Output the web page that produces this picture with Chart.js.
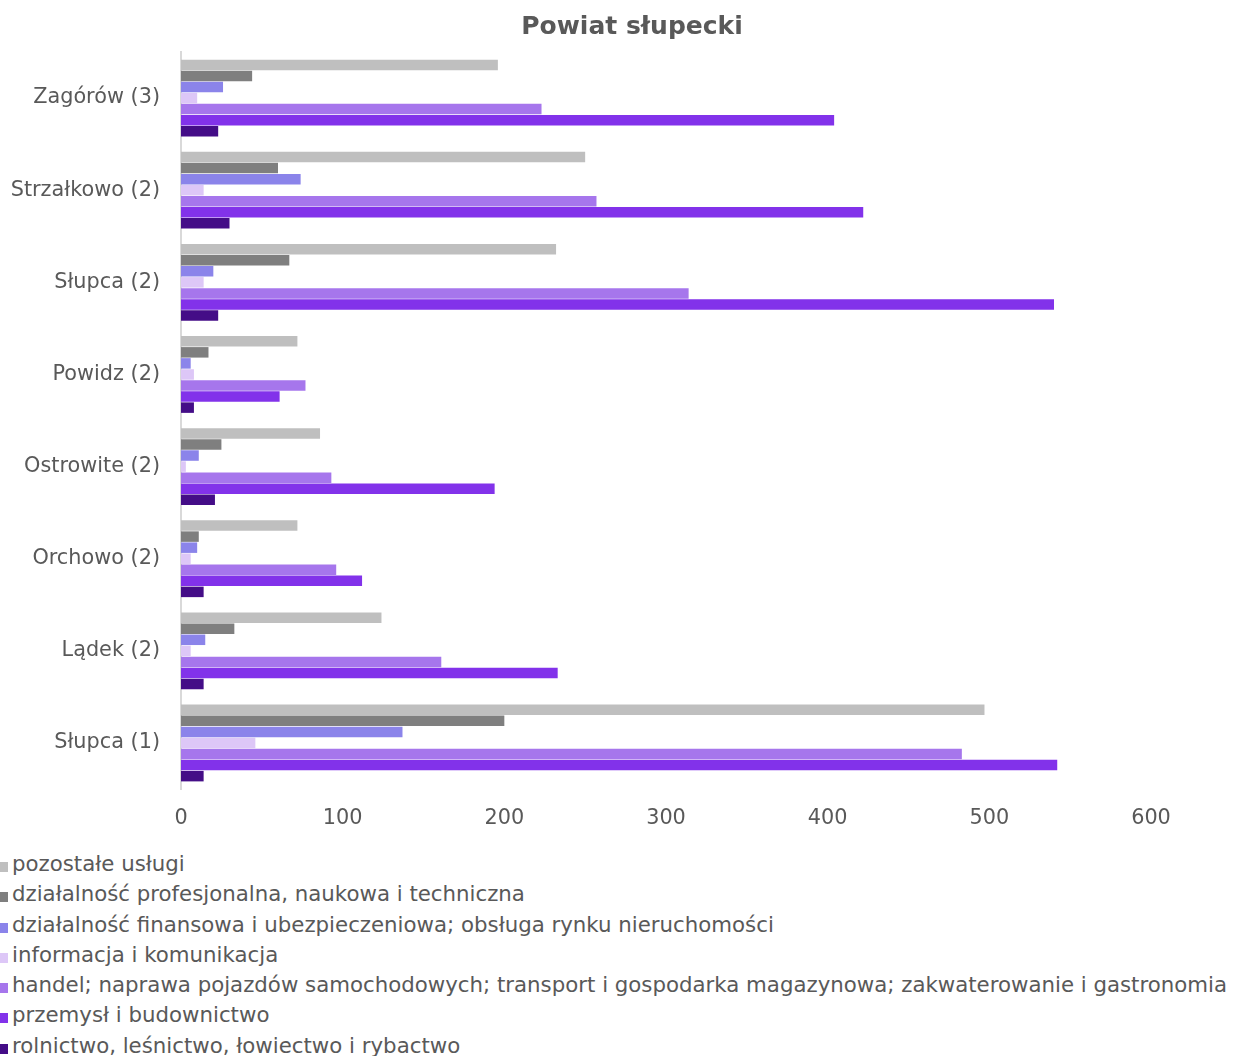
<!DOCTYPE html>
<html lang="pl">
<head>
<meta charset="utf-8">
<title>Powiat słupecki</title>
<script src="https://cdn.jsdelivr.net/npm/chart.js@4.4.1/dist/chart.umd.min.js"></script>
<style>
  body { margin: 0; background: #fff; font-family: "DejaVu Sans", sans-serif; }
  #wrap { position: relative; width: 1235px; height: 1056px; }
  #chart { display: block; }
  #title { position: absolute; left: 0; width: 1264px; top: 10px; margin: 0; text-align: center;
           font-size: 25px; font-weight: bold; color: #595959; line-height: 32px; }
  #legend { position: absolute; left: 0; top: 849px; margin: 0; padding: 0; list-style: none; }
  #legend li { height: 30.3px; line-height: 30.3px; font-size: 21.3px; color: #595959; white-space: nowrap; }
  #legend span.box { display: inline-block; width: 8px; height: 10px; margin-right: 4px; vertical-align: -1px; }
</style>
</head>
<body>
<div id="wrap">
  <canvas id="chart" width="1235" height="845"></canvas>
  <h1 id="title">Powiat słupecki</h1>
  <ul id="legend"></ul>
</div>
<script>
// Gminy (top to bottom as in the picture)
const gminy = ["Zagórów (3)", "Strzałkowo (2)", "Słupca (2)", "Powidz (2)", "Ostrowite (2)", "Orchowo (2)", "Lądek (2)", "Słupca (1)"];

// Series names and values per gmina
const seriesNames = [
  "pozostałe usługi",
  "działalność profesjonalna, naukowa i techniczna",
  "działalność finansowa i ubezpieczeniowa; obsługa rynku nieruchomości",
  "informacja i komunikacja",
  "handel; naprawa pojazdów samochodowych; transport i gospodarka magazynowa; zakwaterowanie i gastronomia",
  "przemysł i budownictwo",
  "rolnictwo, leśnictwo, łowiectwo i rybactwo"
];
const pozostaleUslugi = [196, 250, 232, 72, 86, 72, 124, 497];
const profesjonalna   = [44, 60, 67, 17, 25, 11, 33, 200];
const finansowa       = [26, 74, 20, 6, 11, 10, 15, 137];
const informacja      = [10, 14, 14, 8, 3, 6, 6, 46];
const handel          = [223, 257, 314, 77, 93, 96, 161, 483];
const przemysl        = [404, 422, 540, 61, 194, 112, 233, 542];
const rolnictwo       = [23, 30, 23, 8, 21, 14, 14, 14];

const xTicks = [0, 100, 200, 300, 400, 500, 600];

const colors = ["#bfbfbf", "#7f7f7f", "#8b84ea", "#ddc7f7", "#a676ec", "#8232ea", "#440d87"];
const seriesValues = [pozostaleUslugi, profesjonalna, finansowa, informacja, handel, przemysl, rolnictwo];

const textColor = "#595959";
const tickFont = { family: "DejaVu Sans", size: 20.8 };

const chart = new Chart(document.getElementById("chart"), {
  type: "bar",
  data: {
    labels: gminy,
    datasets: seriesNames.map((name, i) => ({
      label: name,
      data: seriesValues[i],
      backgroundColor: colors[i],
      borderWidth: 0,
      barPercentage: 0.95,
      categoryPercentage: 0.84
    }))
  },
  options: {
    indexAxis: "y",
    responsive: false,
    animation: false,
    layout: { padding: { left: 0, right: 84, top: 52, bottom: 5 } },
    plugins: {
      legend: { display: false },
      tooltip: { enabled: false },
      title: { display: false }
    },
    scales: {
      x: {
        min: xTicks[0],
        max: xTicks[xTicks.length - 1],
        afterBuildTicks: s => { s.ticks = xTicks.map(v => ({ value: v })); },
        grid: { display: false },
        border: { display: false },
        ticks: { color: textColor, padding: 9, font: tickFont }
      },
      y: {
        grid: { display: false },
        border: { display: true, color: "#d9d9d9", width: 2 },
        afterFit: s => { s.width = 181; },
        ticks: { color: textColor, padding: 13, font: tickFont }
      }
    }
  }
});

// Legend below the chart, one entry per line
const legend = document.getElementById("legend");
seriesNames.forEach((name, i) => {
  const li = document.createElement("li");
  const box = document.createElement("span");
  box.className = "box";
  box.style.background = colors[i];
  li.appendChild(box);
  li.appendChild(document.createTextNode(name));
  legend.appendChild(li);
});
</script>
</body>
</html>
